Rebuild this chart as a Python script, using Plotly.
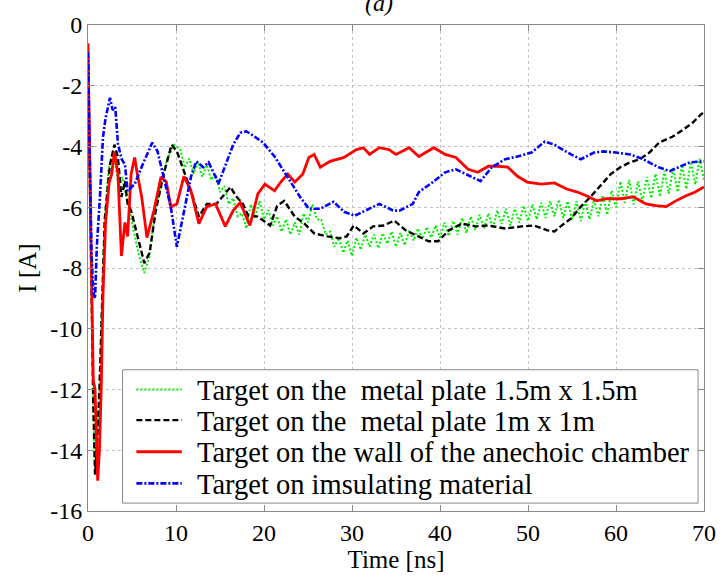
import plotly.graph_objects as go

# ---------------- data ----------------
x_ticks = [0, 10, 20, 30, 40, 50, 60, 70]
x_tick_labels = ["0", "10", "20", "30", "40", "50", "60", "70"]
y_ticks = [0, -2, -4, -6, -8, -10, -12, -14, -16]
y_tick_labels = ["0", "-2", "-4", "-6", "-8", "-10", "-12", "-14", "-16"]

series_names = [
    "Target on the\u00a0 metal plate 1.5m x 1.5m",
    "Target on the\u00a0 metal plate 1m x 1m",
    "Target on the wall of the anechoic chamber",
    "Target on imsulating material",
]
series_colors = ["#00ee00", "#000000", "#ff0000", "#0000ff"]
series_dashes = ["2px,2px", "6px,3px", "solid", "6px,2px,2px,2px"]
series_widths = [2, 2.4, 2.8, 2.6]

green_t = [0, 0.2, 0.4, 0.6, 0.8, 1.0, 1.3, 1.6, 1.9, 2.3, 2.7, 3.1, 3.5, 3.9, 4.3, 4.7,
           5.2, 5.8, 6.4, 7.0, 7.6, 8.3, 9.0, 9.8,
           10.5, 11.0, 11.5, 12.0, 12.5, 13.0, 13.5, 14.0, 14.5, 15.0,
           15.5, 16.0, 16.5, 17.0, 17.5, 18.0, 18.5, 19.0, 19.5, 20.0,
           20.5, 21.0, 21.5, 22.0, 22.5, 23.0, 23.5, 24.0, 24.5, 25.0,
           25.5, 26.0, 26.5, 27.0, 27.5, 28.0, 28.5, 29.0, 29.5, 30.0,
           30.5, 31.0, 31.5, 32.0, 32.5, 33.0, 33.5, 34.0, 34.5, 35.0,
           35.5, 36.0, 36.5, 37.0, 37.5, 38.0, 38.5, 39.0, 39.5, 40.0,
           40.5, 41.0, 41.5, 42.0, 42.5, 43.0, 43.5, 44.0, 44.5, 45.0,
           45.5, 46.0, 46.5, 47.0, 47.5, 48.0, 48.5, 49.0, 49.5, 50.0,
           50.5, 51.0, 51.5, 52.0, 52.5, 53.0, 53.5, 54.0, 54.5, 55.0,
           55.5, 56.0, 56.5, 57.0, 57.5, 58.0, 58.5, 59.0, 59.5, 60.0,
           60.5, 61.0, 61.5, 62.0, 62.5, 63.0, 63.5, 64.0, 64.5, 65.0,
           65.5, 66.0, 66.5, 67.0, 67.5, 68.0, 68.5, 69.0, 69.5, 70.0]
green_i = [-1.0, -5.0, -9.0, -12.5, -14.5, -14.0, -12.0, -9.0, -6.4, -4.8, -4.3, -4.6, -5.3, -5.0, -5.6, -6.0,
           -6.8, -7.6, -8.16, -7.6, -6.2, -5.2, -4.4, -3.94,
           -4.1, -4.7, -4.4, -4.9, -4.5, -5.0, -4.6, -5.1, -4.9, -5.5,
           -5.3, -5.9, -5.7, -6.3, -6.2, -6.7, -5.9, -6.3, -5.8, -6.4,
           -6.1, -6.6, -6.3, -6.8, -6.4, -6.9, -6.5, -6.9, -6.2, -6.5,
           -5.9, -6.4, -6.4, -6.9, -6.8, -7.3, -7.0, -7.5, -7.1, -7.6,
           -7.0, -7.4, -6.9, -7.3, -6.9, -7.35, -6.85, -7.2, -6.8, -7.3,
           -6.85, -7.25, -6.75, -7.1, -6.7, -7.05, -6.65, -7.0, -6.6, -7.0,
           -6.5, -6.95, -6.45, -6.9, -6.35, -6.85, -6.3, -6.75, -6.25, -6.7,
           -6.2, -6.7, -6.1, -6.55, -6.05, -6.6, -6.05, -6.5, -5.95, -6.45,
           -5.9, -6.4, -5.85, -6.35, -5.8, -6.3, -5.75, -6.35, -5.8, -6.4,
           -5.8, -6.45, -5.8, -6.4, -5.75, -6.3, -5.6, -6.25, -5.45, -6.0,
           -5.15, -5.85, -5.1, -5.9, -5.15, -5.8, -5.0, -5.7, -4.9, -5.65,
           -4.8, -5.55, -4.7, -5.5, -4.6, -5.4, -4.5, -5.25, -4.4, -5.1]

black_t = [0, 0.2, 0.4, 0.6, 0.8, 1.0, 1.3, 1.6, 1.9, 2.5, 3.0, 3.4, 3.8, 4.2, 4.5,
           4.9, 5.6, 6.4, 7.0, 7.7, 8.6, 9.5, 10.1, 10.9, 11.7, 12.6, 13.5, 14.6, 16.2, 16.8,
           17.6, 18.2, 19.3, 20.7, 21.5, 22.3, 23.5, 24.6, 25.7, 27.2, 28.6, 29.4, 30.2, 31.3, 32.4,
           33.6, 34.8, 36.1, 37.6, 38.7, 39.8, 41.0, 42.5, 44.0, 45.5, 47.4, 49.3, 50.7, 52.2, 53.0,
           53.7, 54.9, 56.0, 57.1, 58.2, 59.4, 60.5, 61.6, 62.7, 63.8, 64.9, 66.4, 67.6, 68.7, 69.6, 70.0]
black_i = [-1.0, -5.0, -9.0, -12.5, -14.8, -14.0, -12.0, -9.0, -6.4, -4.6, -3.94, -4.36, -5.66, -5.14, -5.89,
           -6.11, -6.96, -7.84, -7.5, -6.11, -4.91, -3.94, -4.16, -4.81, -5.46, -6.31, -5.89, -5.89, -5.33, -5.63,
           -5.89, -6.28, -6.31, -6.6, -5.95, -5.79, -6.31, -6.54, -6.86, -6.96, -7.02, -6.96, -6.6, -6.86, -6.63,
           -6.6, -6.44, -6.76, -6.96, -7.12, -7.12, -6.76, -6.54, -6.63, -6.6, -6.7, -6.63, -6.6, -6.76, -6.8,
           -6.63, -6.37, -5.98, -5.66, -5.3, -4.91, -4.68, -4.52, -4.42, -4.2, -3.87, -3.68, -3.45, -3.22, -2.96, -2.86]

red_t = [0, 0.1, 0.3, 0.6, 0.8, 1.1, 1.3, 1.5, 1.7, 2.0, 2.4, 2.7, 3.0, 3.4, 3.8,
         4.2, 4.5, 4.9, 5.3, 5.6, 6.1, 6.7, 7.5, 8.3, 8.9, 9.4, 10.1, 10.9, 11.7, 12.6,
         13.5, 14.5, 15.6, 16.5, 17.3, 18.4, 19.3, 20.1, 21.2, 21.9, 22.7, 23.5, 24.4, 25.1, 25.7,
         26.4, 27.5, 29.1, 30.5, 31.3, 32.0, 33.1, 34.2, 35.0, 36.5, 37.6, 39.3, 40.6, 41.8, 43.2,
         44.3, 45.5, 46.6, 47.7, 48.8, 49.9, 51.5, 53.0, 54.4, 55.6, 56.7, 57.8, 58.9, 60.5, 62.0,
         63.4, 64.5, 65.7, 66.8, 67.9, 69.0, 70.0]
red_i = [-0.6, -3.0, -6.5, -11.7, -12.0, -15.0, -14.0, -12.0, -8.9, -6.5, -5.2, -4.9, -4.16, -4.9, -7.6,
         -6.5, -6.96, -4.9, -4.36, -4.9, -5.66, -7.0, -6.1, -5.0, -5.17, -5.98, -5.89, -4.98, -5.46, -6.54,
         -5.98, -5.89, -6.63, -6.11, -5.85, -6.6, -5.56, -5.24, -5.46, -5.17, -4.91, -5.17, -4.91, -4.36, -4.26,
         -4.68, -4.49, -4.36, -4.1, -4.04, -4.26, -4.04, -4.1, -4.26, -4.04, -4.33, -4.04, -4.26, -4.36, -4.75,
         -4.85, -4.65, -4.65, -4.68, -4.98, -5.17, -5.24, -5.2, -5.4, -5.5, -5.63, -5.79, -5.72, -5.72, -5.66,
         -5.89, -5.95, -5.98, -5.79, -5.63, -5.5, -5.33]

blue_t = [0, 0.2, 0.4, 0.6, 0.8, 1.0, 1.35, 1.7, 2.0, 2.5, 2.8, 3.1, 3.4, 3.8, 4.2,
          4.5, 5.3, 6.2, 7.3, 7.9, 8.6, 9.4, 10.1, 10.9, 11.7, 12.3, 13.1, 13.7, 14.5, 14.8,
          15.7, 16.5, 17.3, 18.0, 18.8, 19.9, 21.2, 22.7, 24.1, 25.1, 26.4, 27.9, 29.1, 30.3, 31.6,
          33.1, 34.7, 35.4, 36.9, 37.6, 39.2, 40.6, 41.8, 42.9, 44.6, 45.9, 47.4, 48.8, 50.4, 51.9,
          53.0, 54.9, 56.0, 57.5, 58.6, 60.0, 61.6, 63.1, 64.8, 66.1, 67.2, 68.4, 70.0]
blue_i = [-0.9, -4.5, -7.5, -8.8, -9.0, -7.3, -5.7, -3.7, -3.06, -2.4, -2.8, -2.7, -3.9, -4.4, -4.6,
          -5.46, -5.24, -4.6, -3.87, -4.16, -5.0, -5.98, -7.3, -6.1, -5.0, -4.49, -4.68, -4.52, -5.0, -5.24,
          -4.58, -3.94, -3.55, -3.5, -3.65, -3.87, -4.33, -5.0, -5.66, -6.05, -6.05, -5.82, -6.15, -6.28, -6.11,
          -5.89, -6.11, -6.11, -5.89, -5.5, -5.17, -4.85, -4.75, -4.91, -5.14, -4.68, -4.42, -4.33, -4.2, -3.84,
          -3.94, -4.26, -4.42, -4.2, -4.16, -4.2, -4.26, -4.42, -4.68, -4.81, -4.68, -4.52, -4.49]

assert len(green_t) == len(green_i)
assert len(black_t) == len(black_i)
assert len(red_t) == len(red_i)
assert len(blue_t) == len(blue_i)

# ---------------- figure ----------------
SERIF = "Liberation Serif"
W, H = 728, 577
ML, MR, MT, MB = 88, 16, 19, 66
PW, PH = W - ML - MR, H - MT - MB


def px_x(p):
    return (p - ML) / PW


def px_y(p):
    return (H - MB - p) / PH


fig = go.Figure()
for (tx, iy), name, col, dash, wd in zip(
        [(green_t, green_i), (black_t, black_i), (red_t, red_i), (blue_t, blue_i)],
        series_names, series_colors, series_dashes, series_widths):
    fig.add_trace(go.Scatter(x=tx, y=iy, mode="lines", name=name, showlegend=False,
                             line=dict(color=col, width=wd, dash=dash)))

axis_common = dict(
    showline=True, linecolor="#888888", linewidth=1, mirror="ticks",
    ticks="inside", ticklen=6, tickcolor="#888888",
    showgrid=True, gridcolor="#c4c4c4", gridwidth=1, griddash="dot",
    zeroline=False, tickfont=dict(family=SERIF, size=24, color="#000000"),
)

fig.update_xaxes(range=[0, 70], tickvals=x_ticks, ticktext=x_tick_labels,
                 title=dict(text="Time [ns]", font=dict(family=SERIF, size=25, color="#000"), standoff=0),
                 **axis_common)
fig.update_yaxes(range=[-16, 0], tickvals=y_ticks, ticktext=y_tick_labels,
                 title=dict(text="I [A]", font=dict(family=SERIF, size=25, color="#000"), standoff=6),
                 **axis_common)

# legend (frame, sample lines and labels) drawn in paper coordinates
fig.add_shape(type="rect", xref="paper", yref="paper",
              x0=px_x(123), x1=px_x(706), y0=px_y(503), y1=px_y(368),
              fillcolor="white", line=dict(color="#888888", width=1), layer="above")
row_y = [388, 419, 451, 483]
for ry, name, col, dash, wd in zip(row_y, series_names, series_colors, series_dashes, series_widths):
    fig.add_shape(type="line", xref="paper", yref="paper",
                  x0=px_x(137), x1=px_x(183), y0=px_y(ry), y1=px_y(ry),
                  line=dict(color=col, width=wd, dash=dash), layer="above")
    fig.add_annotation(text=name, xref="paper", yref="paper",
                       x=px_x(196), y=px_y(ry + 1), xanchor="left", yanchor="middle",
                       showarrow=False, font=dict(family=SERIF, size=28.5, color="#000"))

fig.add_annotation(text="<i>(a)</i>", xref="paper", yref="paper",
                   x=px_x(383), y=px_y(-3), showarrow=False,
                   font=dict(family=SERIF, size=24, color="#000"), yanchor="middle")

fig.update_layout(
    width=W, height=H, autosize=False,
    margin=dict(l=ML, r=MR, t=MT, b=MB),
    paper_bgcolor="white", plot_bgcolor="white",
    showlegend=False,
)

fig.write_html("out.html")
